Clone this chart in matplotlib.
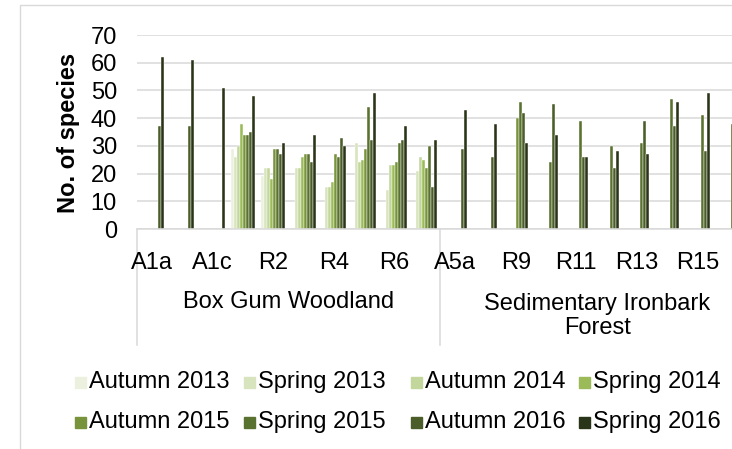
import numpy as np
import matplotlib
matplotlib.use('Agg')
import matplotlib.pyplot as plt
from matplotlib.patches import Rectangle
from matplotlib.transforms import blended_transform_factory

plt.rcParams['font.family'] = ['Liberation Sans', 'DejaVu Sans']
plt.rcParams['font.size'] = 17

nan = np.nan

sites = ['A1a', 'A1b', 'A1c', 'R1', 'R2', 'R3', 'R4', 'R5', 'R6', 'R7',
         'A5a', 'R8', 'R9', 'R10', 'R11', 'R12', 'R13', 'R14', 'R15', 'R16']
groups = ['Box Gum Woodland', 'Sedimentary Ironbark\nForest']
group_size = 10

seasons = ['Autumn 2013', 'Spring 2013', 'Autumn 2014', 'Spring 2014',
           'Autumn 2015', 'Spring 2015', 'Autumn 2016', 'Spring 2016']
colors = ['#EBF1DE', '#D7E4BD', '#C3D69B', '#9BBB59',
          '#77933C', '#5A7230', '#4B5E29', '#2A3418']

autumn_2013 = [nan, nan, nan, 29, 19, nan, nan, nan, nan, nan,
               nan, nan, nan, nan, nan, nan, nan, nan, nan, nan]
spring_2013 = [nan, nan, nan, 26, 22, 22, 15, 31, 14, 21,
               nan, nan, nan, nan, nan, nan, nan, nan, nan, nan]
autumn_2014 = [nan, nan, nan, 30, 22, 22, 15, 24, 23, 26,
               nan, nan, nan, nan, nan, nan, nan, nan, nan, nan]
spring_2014 = [nan, nan, nan, 38, 18, 26, 17, 25, 23, 25,
               nan, nan, nan, nan, nan, nan, nan, nan, nan, nan]
autumn_2015 = [nan, nan, nan, 34, 29, 27, 27, 29, 24, 22,
               nan, nan, 40, nan, nan, nan, nan, nan, nan, nan]
spring_2015 = [nan, nan, nan, 34, 29, 27, 26, 44, 31, 30,
               nan, nan, 46, 24, 39, 30, 31, 47, 41, 38]
autumn_2016 = [37, 37, nan, 35, 27, 24, 33, 32, 32, 15,
               29, 26, 42, 45, 26, 22, 39, 37, 28, nan]
spring_2016 = [62, 61, 51, 48, 31, 34, 30, 49, 37, 32,
               43, 38, 31, 34, 26, 28, 27, 46, 49, nan]

series = [autumn_2013, spring_2013, autumn_2014, spring_2014,
          autumn_2015, spring_2015, autumn_2016, spring_2016]

W, H = 732, 449
fig = plt.figure(figsize=(W / 100, H / 100), dpi=100)

# chart border (runs off the right/bottom of the crop)
fig.patches.append(Rectangle((20 / W, -0.1), 1.2, 1 - 5 / H + 0.1,
                             transform=fig.transFigure, fill=False,
                             edgecolor='#D9D9D9', lw=1))

# plot area runs a bit past the right edge like the original crop
ax = fig.add_axes([137 / W, 1 - 229 / H, 606 / W, 194 / H])

x = np.arange(len(sites))
slot = 3.0 / 30.3
for j, (vals, col) in enumerate(zip(series, colors)):
    ax.bar(x + (j - 3.5) * slot, vals, width=slot, color=col,
           edgecolor='white', linewidth=0.3, zorder=2)

ax.set_xlim(-0.5, len(sites) - 0.5)
ax.set_ylim(0, 70)
ax.set_yticks(range(0, 71, 10))
ax.set_xticks([])
ax.tick_params(axis='y', length=0, pad=14.5, labelsize=17)
ax.grid(axis='y', color='#D9D9D9', lw=1.1, zorder=0)
ax.set_axisbelow(True)
for s in ['top', 'right', 'left']:
    ax.spines[s].set_visible(False)
ax.spines['bottom'].set_color('#D9D9D9')
ax.spines['bottom'].set_linewidth(1.1)

trans = blended_transform_factory(ax.transData, ax.transAxes)


def ay(ypix):
    return (229 - ypix) / 194


for i in range(0, len(sites), 2):
    ax.text(i, ay(263), sites[i], transform=trans, ha='center', va='center')

for g in range(len(groups) + 1):
    xd = g * group_size - 0.5
    ax.plot([xd, xd], [0, ay(345)], transform=trans, clip_on=False,
            color='#D9D9D9', lw=1.1)

# second group label sits a touch right, as in the original
label_shift = [0, 0.2]
for g, name in enumerate(groups):
    xc = g * group_size + (group_size - 1) / 2 + label_shift[g]
    ax.text(xc, ay(316) if '\n' in name else ay(302), name, transform=trans,
            ha='center', va='center', linespacing=1.15)

fig.text(68 / W, 1 - 133 / H, 'No. of species', rotation=90, ha='center',
         va='center', fontsize=17, fontweight='bold')

# legend, Excel-style fixed columns
text_x = [89, 258, 425, 593]
row_y = [382, 422]
for k, (name, col) in enumerate(zip(seasons, colors)):
    tx = text_x[k % 4]
    my = row_y[k // 4]
    fig.patches.append(Rectangle(((tx - 14) / W, 1 - (my + 5.5) / H), 11 / W, 11 / H,
                                 transform=fig.transFigure, color=col))
    fig.text(tx / W, 1 - my / H, name, ha='left', va='center')

fig.savefig('out.png', dpi=100)
